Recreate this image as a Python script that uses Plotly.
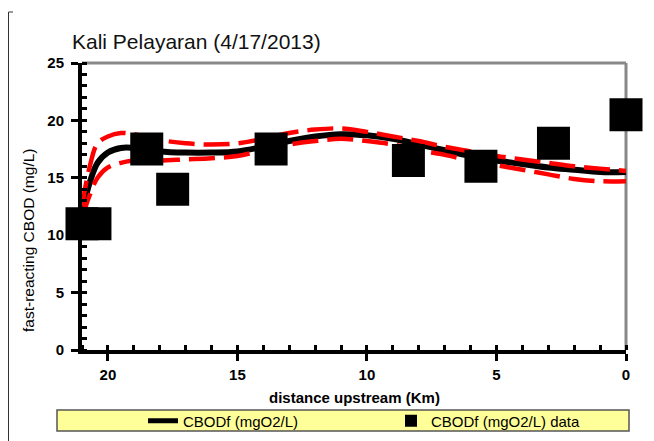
import plotly.graph_objects as go

# model output (distance upstream, km) and fast CBOD (mg/L)
model_km = [21.0, 20.7, 20.4, 20.0, 19.5, 19.0, 18.0, 17.0, 16.0, 15.0, 14.0, 13.0, 12.0,
            11.0, 10.0, 9.0, 8.0, 7.0, 6.0, 5.0, 4.0, 3.0, 2.0, 1.0, 0.0]
cbodf = [12.0, 14.6, 16.3, 17.2, 17.6, 17.6, 17.3, 17.2, 17.2, 17.3, 17.7, 18.2, 18.6,
         18.8, 18.7, 18.4, 17.9, 17.4, 16.9, 16.5, 16.2, 15.9, 15.7, 15.5, 15.5]
cbodf_upper = [12.5, 16.0, 18.0, 18.6, 18.9, 18.8, 18.3, 18.0, 17.9, 18.0, 18.4, 18.9, 19.2,
               19.3, 19.0, 18.6, 18.2, 17.7, 17.3, 16.9, 16.6, 16.3, 16.0, 15.8, 15.6]
cbodf_lower = [11.5, 13.5, 15.0, 15.9, 16.3, 16.5, 16.5, 16.6, 16.7, 16.9, 17.4, 17.9, 18.2,
               18.4, 18.2, 17.9, 17.4, 17.0, 16.5, 16.1, 15.7, 15.3, 14.9, 14.7, 14.7]

# observed data
data_km = [21.0, 20.5, 18.5, 17.5, 13.7, 8.4, 5.6, 2.8, 0.0]
data_cbodf = [11.0, 11.0, 17.5, 14.0, 17.5, 16.5, 16.0, 18.0, 20.5]

FONT = "Arial, Liberation Sans, sans-serif"

# page has an 8px body margin, so work in figure coords = screen - 8
W, H = 646, 433
L, R, T, B = 74, 28, 55, 91
PW, PH = W - L - R, H - T - B


def px(sx):
    return (sx - 8 - L) / PW


def py(sy):
    return (H - B - (sy - 8)) / PH


fig = go.Figure()
fig.add_trace(go.Scatter(
    x=model_km, y=cbodf, mode="lines", name="CBODf (mgO2/L)",
    line=dict(color="black", width=6, shape="spline"),
))
for band in (cbodf_upper, cbodf_lower):
    fig.add_trace(go.Scatter(
        x=model_km, y=band, mode="lines", showlegend=False,
        line=dict(color="#ff0000", width=4.5, dash="26px,9px", shape="spline"),
    ))
fig.add_trace(go.Scatter(
    x=data_km, y=data_cbodf, mode="markers", name="CBODf (mgO2/L) data",
    marker=dict(symbol="square", size=33, color="black"),
    cliponaxis=False,
))

axis_common = dict(
    showline=True, linecolor="black", linewidth=4,
    ticks="outside", ticklen=7, tickwidth=3, tickcolor="black",
    tickfont=dict(family=FONT, size=15, color="black", weight="bold"),
    showgrid=False, zeroline=False,
    minor=dict(dtick=1, ticks="inside", ticklen=5, tickwidth=3, tickcolor="black"),
)

fig.update_xaxes(range=[21, 0], dtick=5, tick0=0, ticklabelstandoff=1, **axis_common)
fig.update_yaxes(range=[0, 25], dtick=5, tick0=0, ticklabelstandoff=4, **axis_common)

fig.update_layout(
    width=W, height=H,
    margin=dict(l=L, r=R, t=T, b=B),
    paper_bgcolor="white", plot_bgcolor="white",
    font=dict(family=FONT, color="black"),
    title=dict(text="Kali Pelayaran (4/17/2013)", xref="container", x=(72 - 8) / W,
               xanchor="left", yref="container", y=1 - (42 - 8) / H, yanchor="middle",
               font=dict(size=21, color="#111")),
    showlegend=True,
    legend=dict(orientation="h", xref="container", yref="container",
                x=(143 - 8) / W, xanchor="left", y=1 - (421 - 8) / H, yanchor="middle",
                bgcolor="rgba(0,0,0,0)", borderwidth=0,
                font=dict(family=FONT, size=15, color="black"),
                entrywidth=203, itemsizing="constant"),
    shapes=[
        dict(type="line", xref="paper", yref="paper", x0=0, x1=1, y0=1, y1=1,
             line=dict(color="#888", width=3), layer="below"),
        dict(type="line", xref="paper", yref="paper", x0=1, x1=1, y0=0, y1=1,
             line=dict(color="#888", width=3), layer="below"),
        dict(type="rect", xref="paper", yref="paper",
             x0=px(57), x1=px(629), y0=py(431), y1=py(410),
             fillcolor="#ffff99", line=dict(color="#555", width=1.5), layer="below"),
        dict(type="line", xref="paper", yref="paper",
             x0=px(8.5), x1=px(8.5), y0=py(441), y1=py(12),
             line=dict(color="#333", width=1)),
        dict(type="line", xref="paper", yref="paper",
             x0=px(8.5), x1=px(13), y0=py(12), y1=py(12),
             line=dict(color="#333", width=1)),
    ],
    annotations=[
        dict(text="fast-reacting CBOD (mg/L)", textangle=-90, showarrow=False,
             xref="paper", yref="paper", x=px(28), y=py(241),
             xanchor="center", yanchor="middle", font=dict(size=15.5, color="black")),
        dict(text="distance upstream (Km)", showarrow=False,
             xref="paper", yref="paper", x=px(354), y=py(397),
             xanchor="center", yanchor="middle",
             font=dict(size=15, color="black", weight="bold")),
    ],
)

fig.write_html("out.html")
